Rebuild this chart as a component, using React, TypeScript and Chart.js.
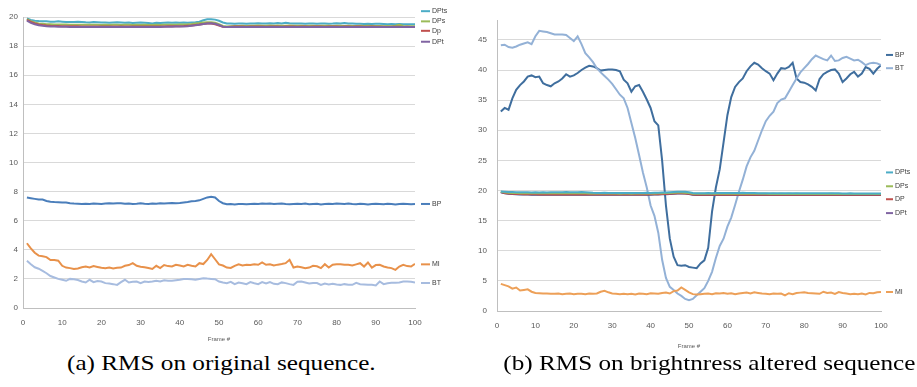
import React, { useEffect, useRef } from "react";
import { Chart, registerables } from "chart.js";

Chart.register(...registerables);

const frames: number[] = Array.from({ length: 100 }, (_, i) => i + 1);
const xTicks = [0, 10, 20, 30, 40, 50, 60, 70, 80, 90, 100];

// ---- (a) original sequence ----
const aDPts = [19.9,19.8,19.75,19.72,19.7,19.7,19.68,19.68,19.7,19.68,
19.66,19.65,19.66,19.68,19.66,19.64,19.63,19.65,19.64,19.62,
19.62,19.6,19.62,19.64,19.62,19.6,19.62,19.58,19.6,19.62,
19.6,19.58,19.56,19.6,19.58,19.6,19.62,19.6,19.62,19.6,
19.62,19.6,19.62,19.64,19.68,19.78,19.84,19.84,19.82,19.74,
19.62,19.55,19.55,19.54,19.56,19.55,19.54,19.56,19.55,19.57,
19.56,19.55,19.57,19.56,19.58,19.56,19.6,19.57,19.55,19.56,
19.55,19.54,19.56,19.55,19.53,19.55,19.56,19.54,19.55,19.57,
19.56,19.58,19.56,19.55,19.53,19.54,19.52,19.53,19.52,19.54,
19.53,19.52,19.5,19.52,19.5,19.52,19.5,19.5,19.51,19.5];
const aDPs = [19.85,19.72,19.62,19.56,19.53,19.5,19.5,19.49,19.48,19.48,
19.48,19.47,19.47,19.46,19.46,19.46,19.47,19.46,19.46,19.45,
19.46,19.45,19.46,19.46,19.45,19.46,19.46,19.45,19.46,19.45,
19.46,19.45,19.45,19.46,19.45,19.46,19.46,19.47,19.47,19.48,
19.49,19.5,19.52,19.55,19.58,19.62,19.64,19.64,19.6,19.5,
19.38,19.35,19.37,19.38,19.39,19.4,19.39,19.4,19.4,19.41,
19.4,19.4,19.41,19.4,19.41,19.4,19.4,19.41,19.4,19.4,
19.4,19.39,19.4,19.4,19.39,19.4,19.4,19.4,19.39,19.4,
19.4,19.39,19.4,19.39,19.38,19.39,19.38,19.39,19.38,19.38,
19.38,19.37,19.38,19.37,19.4,19.46,19.38,19.36,19.36,19.36];
const aDp = [19.8,19.66,19.56,19.49,19.45,19.42,19.4,19.39,19.38,19.37,
19.37,19.36,19.36,19.36,19.35,19.35,19.35,19.35,19.35,19.35,
19.35,19.35,19.34,19.35,19.35,19.34,19.35,19.35,19.34,19.35,
19.35,19.34,19.35,19.35,19.35,19.35,19.36,19.36,19.37,19.37,
19.38,19.4,19.42,19.45,19.48,19.52,19.55,19.55,19.5,19.42,
19.33,19.32,19.33,19.34,19.34,19.34,19.33,19.34,19.34,19.34,
19.34,19.33,19.34,19.34,19.34,19.33,19.34,19.34,19.34,19.33,
19.34,19.34,19.33,19.34,19.34,19.34,19.33,19.34,19.34,19.34,
19.33,19.34,19.34,19.33,19.34,19.34,19.33,19.33,19.34,19.33,
19.33,19.33,19.32,19.33,19.33,19.33,19.32,19.33,19.32,19.32];
const aDPt = [19.75,19.6,19.5,19.43,19.4,19.37,19.35,19.34,19.33,19.33,
19.33,19.32,19.32,19.32,19.32,19.32,19.32,19.32,19.32,19.32,
19.32,19.32,19.32,19.32,19.32,19.32,19.32,19.32,19.32,19.32,
19.32,19.32,19.32,19.32,19.32,19.33,19.33,19.33,19.34,19.34,
19.35,19.37,19.4,19.43,19.47,19.52,19.56,19.57,19.53,19.45,
19.33,19.31,19.31,19.32,19.32,19.32,19.32,19.32,19.32,19.32,
19.32,19.32,19.32,19.32,19.32,19.32,19.32,19.32,19.32,19.32,
19.32,19.32,19.32,19.32,19.32,19.32,19.32,19.32,19.32,19.32,
19.32,19.32,19.32,19.32,19.32,19.32,19.32,19.32,19.32,19.32,
19.31,19.31,19.31,19.31,19.31,19.31,19.31,19.31,19.31,19.31];
const aBP = [7.6,7.55,7.5,7.45,7.45,7.35,7.3,7.28,7.27,7.25,
7.25,7.2,7.18,7.17,7.15,7.17,7.15,7.18,7.17,7.15,
7.18,7.2,7.18,7.2,7.2,7.17,7.18,7.15,7.17,7.2,
7.17,7.15,7.18,7.17,7.2,7.18,7.2,7.22,7.2,7.22,
7.25,7.28,7.33,7.36,7.4,7.5,7.6,7.65,7.6,7.35,
7.2,7.13,7.15,7.12,7.15,7.15,7.13,7.15,7.17,7.15,
7.18,7.17,7.18,7.15,7.17,7.18,7.15,7.13,7.15,7.17,
7.15,7.18,7.13,7.15,7.17,7.12,7.15,7.17,7.15,7.18,
7.17,7.15,7.18,7.15,7.13,7.17,7.15,7.12,7.15,7.17,
7.15,7.13,7.17,7.15,7.12,7.15,7.17,7.15,7.13,7.15];
const aMI = [4.45,4.1,3.8,3.6,3.55,3.5,3.3,3.3,3.25,2.9,
2.78,2.74,2.68,2.72,2.8,2.85,2.78,2.88,2.82,2.76,
2.74,2.78,2.72,2.76,2.78,2.9,2.95,3.08,2.9,2.84,
2.8,2.75,2.68,2.9,2.74,2.95,2.88,2.86,2.97,2.92,
2.85,2.97,2.9,2.85,3.08,3.02,3.3,3.7,3.35,3.0,
2.92,2.78,2.75,2.9,3.01,2.92,2.97,2.95,3.01,2.97,
3.13,2.97,3.01,2.92,2.98,3.02,3.08,3.31,2.78,2.85,
2.8,2.74,2.78,2.9,2.87,2.74,3.01,2.78,2.97,3.0,
3.01,2.97,2.97,2.92,3.0,3.08,2.85,3.13,2.78,2.95,
2.97,2.85,2.78,2.74,2.62,2.85,2.97,2.88,2.85,3.03];
const aBT = [3.24,3.01,2.8,2.7,2.55,2.39,2.2,2.1,2.0,1.94,
1.87,2.0,1.97,1.92,1.82,1.75,1.94,1.78,1.85,1.82,
1.71,1.68,1.64,1.59,1.78,1.94,1.75,1.8,1.82,1.71,
1.82,1.78,1.82,1.87,1.82,1.91,1.87,1.88,1.91,1.94,
2.0,2.0,1.98,1.94,2.0,2.05,2.02,2.0,1.98,1.82,
1.75,1.71,1.8,1.64,1.75,1.7,1.64,1.78,1.7,1.64,
1.78,1.68,1.78,1.66,1.64,1.76,1.71,1.64,1.59,1.8,
1.82,1.75,1.68,1.71,1.71,1.59,1.68,1.62,1.66,1.62,
1.59,1.64,1.6,1.59,1.73,1.64,1.62,1.59,1.59,1.55,
1.82,1.64,1.7,1.73,1.73,1.75,1.82,1.82,1.8,1.75];

// ---- (b) brightness altered sequence ----
const bBP = [33.1,33.7,33.4,35.3,36.7,37.5,38.1,38.9,39.1,38.8,
38.9,37.8,37.5,37.3,37.8,38.1,38.6,39.3,38.9,39.1,
39.5,40.0,40.4,40.7,40.6,40.3,39.9,40.0,40.1,40.1,
40.0,39.8,38.4,37.8,36.4,37.3,37.5,36.4,35.1,33.7,
31.5,30.8,25.0,17.5,12.0,9.0,7.6,7.5,7.6,7.3,
7.2,7.1,7.9,8.4,10.5,16.5,20.5,23.5,28.0,32.5,
35.5,37.2,38.0,38.6,39.8,40.6,41.2,40.9,40.3,39.8,
39.4,38.3,39.4,40.3,40.2,40.5,41.2,38.6,38.0,37.9,
37.6,37.2,36.6,38.5,39.3,39.7,40.0,40.1,39.4,38.0,
38.6,39.3,39.7,38.9,39.4,40.5,40.2,39.4,40.2,40.8];
const bBT = [44.1,44.2,43.8,43.7,43.9,44.2,44.4,44.6,44.3,45.6,
46.5,46.4,46.3,46.1,45.9,45.9,45.9,45.8,45.3,44.8,
45.6,44.3,42.8,42.1,41.3,40.3,39.6,39.0,38.4,37.7,
36.8,35.9,35.3,33.7,31.2,28.7,25.9,23.0,20.5,17.5,
15.8,13.0,8.5,5.5,4.0,3.5,2.9,2.5,2.0,1.8,
2.0,2.6,3.2,3.8,5.0,6.5,8.8,10.8,12.0,14.0,
15.5,17.6,19.8,21.8,24.0,25.5,26.6,28.3,30.0,31.5,
32.4,33.1,34.5,35.1,35.3,36.4,37.5,38.6,39.6,40.3,
41.0,41.8,42.4,42.1,41.8,41.6,42.4,41.5,41.6,42.0,
42.2,41.9,41.6,41.7,41.3,40.8,41.1,41.2,41.1,40.8];
const bDPts = [19.85,19.8,19.76,19.74,19.72,19.7,19.7,19.7,19.68,19.7,
19.68,19.7,19.68,19.7,19.72,19.7,19.72,19.74,19.72,19.7,
19.72,19.74,19.7,19.66,19.62,19.6,19.6,19.62,19.6,19.6,
19.6,19.58,19.6,19.6,19.58,19.6,19.6,19.6,19.62,19.6,
19.62,19.64,19.66,19.68,19.72,19.76,19.8,19.8,19.78,19.72,
19.6,19.55,19.56,19.56,19.58,19.56,19.58,19.6,19.58,19.6,
19.6,19.58,19.6,19.62,19.6,19.58,19.6,19.56,19.55,19.55,
19.54,19.55,19.54,19.55,19.54,19.55,19.54,19.55,19.54,19.54,
19.53,19.54,19.53,19.54,19.53,19.54,19.56,19.54,19.53,19.52,
19.52,19.53,19.52,19.52,19.51,19.52,19.51,19.5,19.5,19.5];
const bDPs = [19.8,19.7,19.64,19.6,19.58,19.56,19.55,19.55,19.54,19.54,
19.53,19.54,19.53,19.54,19.55,19.54,19.55,19.56,19.55,19.54,
19.55,19.56,19.54,19.52,19.5,19.5,19.49,19.5,19.49,19.5,
19.49,19.48,19.49,19.49,19.48,19.49,19.49,19.5,19.5,19.5,
19.52,19.54,19.56,19.58,19.6,19.64,19.66,19.66,19.64,19.58,
19.48,19.45,19.46,19.46,19.47,19.46,19.47,19.48,19.47,19.48,
19.48,19.47,19.48,19.49,19.48,19.47,19.48,19.46,19.45,19.45,
19.44,19.45,19.44,19.45,19.44,19.45,19.44,19.45,19.44,19.44,
19.43,19.44,19.43,19.44,19.43,19.44,19.45,19.44,19.43,19.42,
19.42,19.43,19.42,19.42,19.41,19.42,19.41,19.4,19.4,19.4];
const bDP = [19.75,19.6,19.5,19.45,19.42,19.4,19.38,19.37,19.36,19.36,
19.35,19.35,19.35,19.34,19.34,19.34,19.34,19.34,19.34,19.34,
19.34,19.34,19.33,19.33,19.33,19.33,19.33,19.33,19.33,19.33,
19.33,19.33,19.33,19.33,19.33,19.33,19.34,19.34,19.35,19.36,
19.37,19.39,19.41,19.44,19.47,19.51,19.54,19.55,19.52,19.44,
19.32,19.3,19.3,19.3,19.3,19.3,19.3,19.3,19.3,19.3,
19.3,19.3,19.3,19.3,19.3,19.3,19.3,19.3,19.3,19.3,
19.3,19.3,19.3,19.3,19.3,19.3,19.3,19.3,19.3,19.3,
19.3,19.3,19.3,19.3,19.3,19.3,19.3,19.3,19.3,19.3,
19.29,19.29,19.29,19.29,19.29,19.29,19.29,19.29,19.29,19.29];
const bDPt = [19.7,19.55,19.45,19.4,19.37,19.35,19.33,19.32,19.31,19.31,
19.3,19.3,19.3,19.29,19.29,19.29,19.29,19.29,19.29,19.29,
19.29,19.29,19.28,19.28,19.28,19.28,19.28,19.28,19.28,19.28,
19.28,19.28,19.28,19.28,19.28,19.28,19.29,19.29,19.3,19.31,
19.32,19.34,19.36,19.39,19.42,19.46,19.5,19.52,19.5,19.42,
19.28,19.25,19.25,19.25,19.25,19.25,19.25,19.25,19.25,19.25,
19.25,19.25,19.25,19.25,19.25,19.25,19.25,19.25,19.25,19.25,
19.25,19.25,19.25,19.25,19.25,19.25,19.25,19.25,19.25,19.25,
19.25,19.25,19.25,19.25,19.25,19.25,19.25,19.25,19.25,19.25,
19.24,19.24,19.24,19.24,19.24,19.24,19.24,19.24,19.24,19.24];
const bMI = [4.5,4.3,4.1,3.7,3.9,3.4,3.5,3.6,3.2,3.0,
2.95,2.9,2.9,2.85,2.85,2.9,2.8,2.85,2.9,2.8,
2.85,2.85,2.8,2.9,2.85,2.9,3.2,3.35,3.1,2.9,
2.85,2.8,2.85,2.8,2.85,2.75,2.9,2.85,2.8,2.95,
2.9,2.85,3.0,3.05,2.9,3.3,3.4,3.9,3.5,3.1,
2.8,2.75,2.8,2.85,2.9,2.8,2.95,2.9,3.0,2.85,
2.95,2.8,2.9,3.0,3.05,2.9,3.1,3.0,2.9,2.85,
2.8,2.9,2.85,2.9,2.6,2.95,2.8,3.0,3.05,3.1,
3.0,2.95,2.9,2.85,3.2,3.0,3.05,2.85,3.15,3.0,
2.9,2.8,2.85,2.8,2.9,2.75,3.0,2.95,3.1,3.15];

const TICK_FONT = { family: "'Liberation Sans', Arial, sans-serif", size: 8 };
const TEXT_COLOR = "#595959";

type Entry = { text: string; color: string; at: number };

function makeLabelPlugin(entries: Entry[], lineFrom: number, lineTo: number, textAt: number) {
  return {
    id: "endLabels",
    afterDatasetsDraw(chart: any) {
      const { ctx, chartArea, scales } = chart;
      ctx.save();
      ctx.font = "7px 'Liberation Sans', Arial, sans-serif";
      ctx.textBaseline = "middle";
      ctx.textAlign = "left";
      for (const e of entries) {
        const y = scales.y.getPixelForValue(e.at);
        ctx.strokeStyle = e.color;
        ctx.lineWidth = 2;
        ctx.beginPath();
        ctx.moveTo(chartArea.right + lineFrom, y);
        ctx.lineTo(chartArea.right + lineTo, y);
        ctx.stroke();
        ctx.fillStyle = "#404040";
        ctx.fillText(e.text, chartArea.right + textAt, y);
      }
      ctx.restore();
    },
  };
}

function series(label: string, data: number[], color: string, width = 2) {
  return {
    label,
    data: frames.map((f, i) => ({ x: f, y: data[i] })),
    borderColor: color,
    backgroundColor: color,
    borderWidth: width,
    pointRadius: 0,
    tension: 0,
    fill: false,
  };
}

function ChartBox(props: {
  left: number; width: number; height: number; config: any;
}) {
  const ref = useRef<HTMLCanvasElement | null>(null);
  useEffect(() => {
    if (!ref.current) return;
    const chart = new Chart(ref.current, props.config);
    return () => chart.destroy();
  }, []);
  return (
    <div style={{ position: "absolute", left: props.left, top: 0, width: props.width, height: props.height }}>
      <canvas ref={ref} width={props.width} height={props.height} style={{ width: props.width, height: props.height }} />
    </div>
  );
}

function baseOptions(opts: {
  yMax: number; yStep: number; yTop: number; yWidth: number; yPad: number; xHeight: number;
  padTop: number; padRight: number; titlePadBottom: number;
}) {
  return {
    responsive: false,
    animation: false,
    maintainAspectRatio: false,
    layout: { padding: { top: opts.padTop, right: opts.padRight, left: 0, bottom: 0 } },
    plugins: { legend: { display: false }, tooltip: { enabled: false }, title: { display: false } },
    scales: {
      x: {
        type: "linear",
        min: 0,
        max: 100,
        afterBuildTicks: (s: any) => { s.ticks = xTicks.map((v) => ({ value: v })); },
        afterFit: (s: any) => { s.height = opts.xHeight; },
        grid: { display: false, drawTicks: false },
        border: { display: true, color: "#bfbfbf", width: 1 },
        ticks: { font: TICK_FONT, color: TEXT_COLOR, padding: 10, maxRotation: 0, autoSkip: false },
        title: {
          display: true,
          text: "Frame #",
          font: { family: "'Liberation Sans', Arial, sans-serif", size: 6 },
          color: TEXT_COLOR,
          padding: { top: 0, bottom: opts.titlePadBottom },
        },
      },
      y: {
        type: "linear",
        min: 0,
        max: opts.yMax,
        afterBuildTicks: (s: any) => {
          const t: any[] = [];
          for (let v = 0; v <= opts.yTop + 1e-9; v += opts.yStep) t.push({ value: v });
          s.ticks = t;
        },
        afterFit: (s: any) => { s.width = opts.yWidth; },
        grid: { display: true, color: "#d9d9d9", lineWidth: 1, drawTicks: false },
        border: { display: true, color: "#bfbfbf", width: 1 },
        ticks: { font: TICK_FONT, color: TEXT_COLOR, padding: opts.yPad },
      },
    },
  };
}

const configA = {
  type: "line",
  data: {
    datasets: [
      series("BT", aBT, "#a7bcdf"),
      series("MI", aMI, "#e8914a"),
      series("BP", aBP, "#4a7ebb"),
      series("DPt", aDPt, "#8064a2"),
      series("Dp", aDp, "#c0504d"),
      series("DPs", aDPs, "#9bbb59"),
      series("DPts", aDPts, "#4bacc6"),
    ],
  },
  options: baseOptions({ yMax: 20, yStep: 2, yTop: 20, yWidth: 23, yPad: 5, xHeight: 40, padTop: 17, padRight: 45, titlePadBottom: 5 }),
  plugins: [
    makeLabelPlugin(
      [
        { text: "DPts", color: "#4bacc6", at: 20.4 },
        { text: "DPs", color: "#9bbb59", at: 19.7 },
        { text: "Dp", color: "#c0504d", at: 19.05 },
        { text: "DPt", color: "#8064a2", at: 18.3 },
        { text: "BP", color: "#4a7ebb", at: 7.15 },
        { text: "MI", color: "#e8914a", at: 3.0 },
        { text: "BT", color: "#a7bcdf", at: 1.72 },
      ],
      6, 15, 17
    ),
  ],
};

const configB = {
  type: "line",
  data: {
    datasets: [
      series("MI", bMI, "#eda058"),
      series("DPts", bDPts, "#4bacc6"),
      series("DPs", bDPs, "#9bbb59"),
      series("DP", bDP, "#c0504d"),
      series("DPt", bDPt, "#3f4f94"),
      series("BT", bBT, "#93b1d6"),
      series("BP", bBP, "#3f6e9e"),
    ],
  },
  options: baseOptions({ yMax: 48.3, yStep: 5, yTop: 45, yWidth: 37, yPad: 10, xHeight: 44, padTop: 20, padRight: 36, titlePadBottom: 5 }),
  plugins: [
    makeLabelPlugin(
      [
        { text: "BP", color: "#3f6e9e", at: 42.5 },
        { text: "BT", color: "#93b1d6", at: 40.3 },
        { text: "DPts", color: "#4bacc6", at: 23.0 },
        { text: "DPs", color: "#9bbb59", at: 20.7 },
        { text: "DP", color: "#c0504d", at: 18.55 },
        { text: "DPt", color: "#8064a2", at: 16.25 },
        { text: "MI", color: "#eda058", at: 3.15 },
      ],
      5, 12, 14
    ),
  ],
};

const captionStyle: React.CSSProperties = {
  position: "absolute",
  top: 350,
  fontFamily: "'Liberation Serif', 'Times New Roman', serif",
  fontSize: 21,
  color: "#000",
  whiteSpace: "nowrap",
  lineHeight: "26px",
};

export default function App() {
  return (
    <div style={{ position: "fixed", left: 0, top: 0, width: 917, height: 387, background: "#fff", overflow: "hidden" }}>
      <ChartBox left={0} width={460} height={348} config={configA} />
      <ChartBox left={460} width={457} height={355} config={configB} />
      <div style={{ ...captionStyle, left: 67, transform: "scaleX(1.2)", transformOrigin: "left center" }}>
        (a) RMS on original sequence.
      </div>
      <div style={{ ...captionStyle, right: 2, transform: "scaleX(1.2)", transformOrigin: "right center" }}>
        (b) RMS on brightnress altered sequence
      </div>
    </div>
  );
}
